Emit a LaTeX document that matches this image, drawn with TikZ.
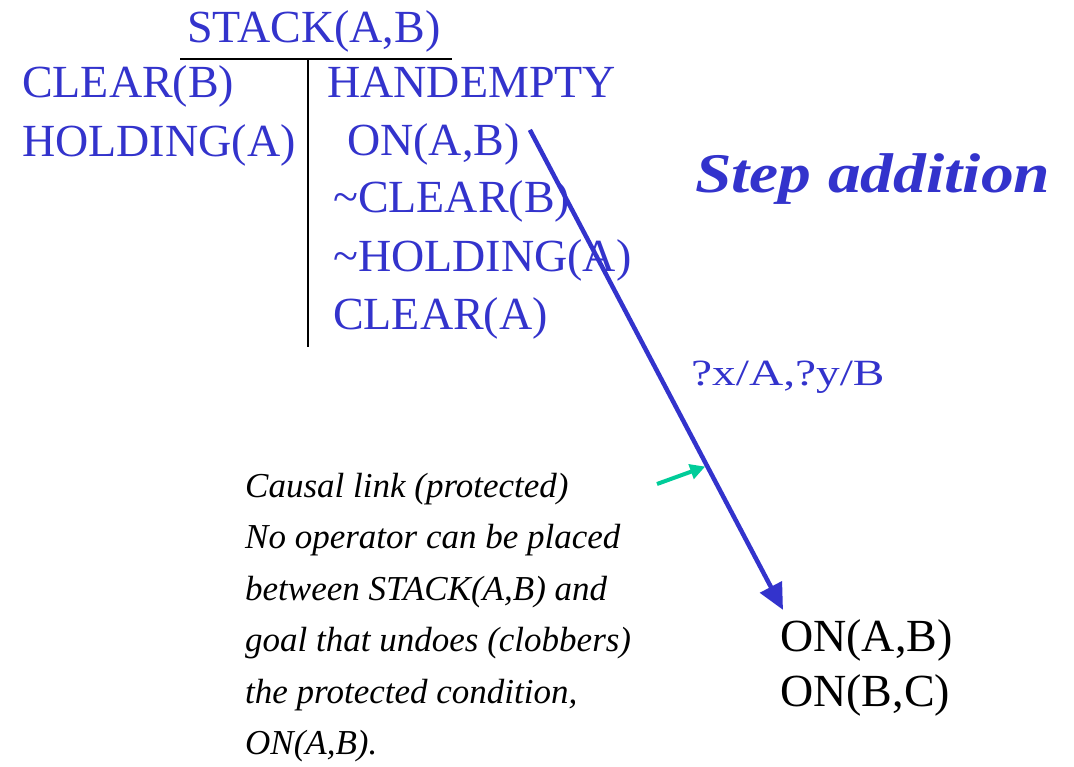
\documentclass[tikz,border=0pt]{standalone}
\usepackage{fontspec}
\usepackage{graphicx}
\setmainfont{Liberation Serif}
\usetikzlibrary{arrows.meta,calc}

\definecolor{opblue}{RGB}{51,51,204}
\definecolor{notegreen}{RGB}{0,204,153}

\tikzset{
  lit/.style={anchor=base west, inner sep=0pt, text=opblue,
              font=\fontsize{46}{50}\selectfont},
  goallit/.style={anchor=base west, inner sep=0pt, text=black,
              font=\fontsize{46}{50}\selectfont},
  rule/.style={line width=2.5pt, black},
  link/.style={line width=4.5pt, opblue,
               -{Triangle[length=26pt,width=24pt]}},
  pointer/.style={line width=4pt, notegreen,
               -{Triangle[length=15pt,width=15pt]}},
  remark/.style={anchor=north west, inner sep=0pt, align=left,
               font=\fontsize{35}{51.5}\selectfont\itshape},
}

\begin{document}
\begin{tikzpicture}[x=1pt,y=-1pt]
  \useasboundingbox (0,0) rectangle (1074,767);

  % operator schema: name, preconditions (left), effects (right)
  \node[lit] (op) at (187,43) {STACK(A,B)};
  \draw[rule] (180,59) -- (452,59);
  \draw[rule] (308,59) -- (308,347);

  \node[lit] (pre1) at (22,98)  {CLEAR(B)};
  \node[lit] (pre2) at (22,157) {HOLDING(A)};

  \node[lit] (eff1) at (327,98)  {HANDEMPTY};
  \node[lit] (onab) at (347,156) {ON(A,B)};
  \node[lit] (eff3) at (333,213) {\textasciitilde CLEAR(B)};
  \node[lit] (eff4) at (333,272) {\textasciitilde HOLDING(A)};
  \node[lit] (eff5) at (333,330) {CLEAR(A)};

  % title
  \node[anchor=base west, inner sep=0pt, text=opblue,
        font=\fontsize{56}{60}\selectfont\bfseries\itshape]
        (title) at (695,193) {\scalebox{1.17}[1]{Step addition}};

  % goal conditions
  \node[goallit] (goal1) at (780,651) {ON(A,B)};
  \node[goallit] (goal2) at (780,706) {ON(B,C)};

  % causal link from the effect to the goal
  \coordinate (ls) at ([shift={(10,6)}]onab.north east);
  \coordinate (le) at ([shift={(3,-9)}]goal1.north west);
  \draw[link] (ls) -- (le);

  % binding label
  \node[anchor=base west, inner sep=0pt, text=opblue,
        font=\fontsize{37}{40}\selectfont]
        (bind) at (691,385) {\scalebox{1.28}[1]{?x/A,?y/B}};

  % explanatory remark and its pointer
  \node[remark] (note) at (245,473) {Causal link (protected)\\
    No operator can be placed\\
    between STACK(A,B) and\\
    goal that undoes (clobbers)\\
    the protected condition,\\
    ON(A,B).};
  \coordinate (tail) at (657,484);
  \draw[pointer, shorten >=2pt] (tail) -- ($(ls)!0.70!(le)$);
\end{tikzpicture}
\end{document}
